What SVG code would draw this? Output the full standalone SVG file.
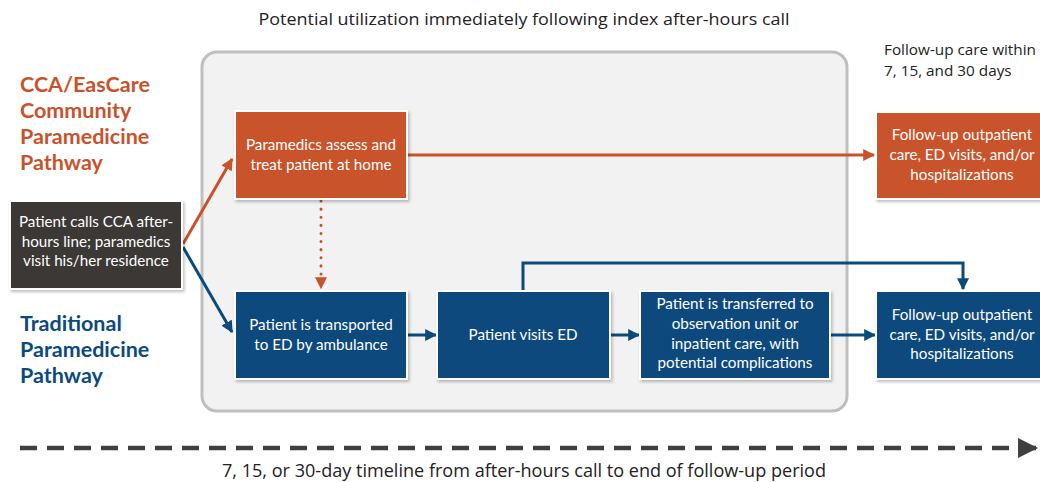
<svg xmlns="http://www.w3.org/2000/svg" width="1040" height="482" viewBox="0 0 1040 482">
  <style>
    .box { stroke: #ffffff; stroke-width: 2; filter: url(#shadow); }
    .orange { fill: #C9522A; }
    .blue { fill: #0B4A7D; }
    .dark { fill: #3B3936; }
    .btxt { font-family: Lato, "Liberation Sans", sans-serif; font-size: 15.2px; fill: #ffffff; text-anchor: middle; }
    .head { font-family: Lato, "Liberation Sans", sans-serif; font-size: 21.5px; font-weight: bold; }
    .note { font-family: "Open Sans", "Liberation Sans", sans-serif; font-size: 15.3px; fill: #222222; }
    .title { font-family: "Open Sans", "Liberation Sans", sans-serif; font-size: 16.5px; fill: #222222; text-anchor: middle; }
    .or-line { stroke: #C9522A; stroke-width: 3; fill: none; }
    .bl-line { stroke: #0B4A7D; stroke-width: 3; fill: none; }
  </style>
  <defs>
    <filter id="shadow" x="-10%" y="-10%" width="130%" height="130%">
      <feDropShadow dx="1.5" dy="2" stdDeviation="1.5" flood-color="#000000" flood-opacity="0.25"/>
    </filter>
    <marker id="arrOr" viewBox="0 0 10 10" refX="9" refY="5" markerWidth="4" markerHeight="4" orient="auto" markerUnits="strokeWidth">
      <path d="M0,0 L10,5 L0,10 z" fill="#C9522A"/>
    </marker>
    <marker id="arrBl" viewBox="0 0 10 10" refX="9" refY="5" markerWidth="4" markerHeight="4" orient="auto" markerUnits="strokeWidth">
      <path d="M0,0 L10,5 L0,10 z" fill="#0B4A7D"/>
    </marker>
    <marker id="arrGr" viewBox="0 0 10 10" refX="9" refY="5" markerWidth="4.5" markerHeight="4.5" orient="auto" markerUnits="strokeWidth">
      <path d="M0,0 L10,5 L0,10 z" fill="#404040"/>
    </marker>
  </defs>

  <!-- heading -->
  <text class="title" x="524" y="25" textLength="531" lengthAdjust="spacingAndGlyphs">Potential utilization immediately following index after-hours call</text>

  <!-- period of immediate utilization -->
  <rect x="202" y="52" width="645" height="359" rx="15" ry="15" fill="#F2F2F2" stroke="#BFBFBF" stroke-width="3"/>

  <!-- pathway labels -->
  <g id="label-cca">
    <text class="head" fill="#C9522A" x="20" y="92">CCA/EasCare</text>
    <text class="head" fill="#C9522A" x="20" y="118">Community</text>
    <text class="head" fill="#C9522A" x="20" y="144">Paramedicine</text>
    <text class="head" fill="#C9522A" x="20" y="170">Pathway</text>
  </g>
  <g id="label-traditional">
    <text class="head" fill="#0B4A7D" x="20" y="331">Traditional</text>
    <text class="head" fill="#0B4A7D" x="20" y="357">Paramedicine</text>
    <text class="head" fill="#0B4A7D" x="20" y="383">Pathway</text>
  </g>

  <g id="label-followup">
    <text class="note" x="884" y="55">Follow-up care within</text>
    <text class="note" x="884" y="76">7, 15, and 30 days</text>
  </g>

  <!-- connectors -->
  <g id="connectors">
    <line class="or-line" x1="183" y1="244" x2="232" y2="159" marker-end="url(#arrOr)"/>
    <line class="bl-line" x1="183" y1="247" x2="232" y2="332" marker-end="url(#arrBl)"/>
    <line class="or-line" x1="407" y1="155" x2="874" y2="155" marker-end="url(#arrOr)"/>
    <line x1="321" y1="201" x2="321" y2="288" stroke="#C9522A" stroke-width="3" stroke-dasharray="0.1 8" stroke-linecap="round" marker-end="url(#arrOr)"/>
    <line class="bl-line" x1="407" y1="335" x2="436" y2="335" marker-end="url(#arrBl)"/>
    <line class="bl-line" x1="610" y1="335" x2="639" y2="335" marker-end="url(#arrBl)"/>
    <line class="bl-line" x1="830" y1="335" x2="875" y2="335" marker-end="url(#arrBl)"/>
    <polyline class="bl-line" points="523,291 523,263 963,263 963,289" marker-end="url(#arrBl)"/>
  </g>

  <!-- nodes -->
  <g id="node-call">
    <rect class="box dark" x="10" y="201" width="172" height="88"/>
    <text class="btxt" x="96" y="227">Patient calls CCA after-</text>
    <text class="btxt" x="96" y="247">hours line; paramedics</text>
    <text class="btxt" x="96" y="266">visit his/her residence</text>
  </g>

  <g id="node-home">
    <rect class="box orange" x="235" y="111" width="172" height="88"/>
    <text class="btxt" x="321" y="150">Paramedics assess and</text>
    <text class="btxt" x="321" y="170">treat patient at home</text>
  </g>

  <g id="node-followup-cca">
    <rect class="box orange" x="876" y="112" width="172" height="87"/>
    <text class="btxt" x="962" y="140">Follow-up outpatient</text>
    <text class="btxt" x="962" y="160">care, ED visits, and/or</text>
    <text class="btxt" x="962" y="180">hospitalizations</text>
  </g>

  <g id="node-transport">
    <rect class="box blue" x="235" y="291" width="172" height="88"/>
    <text class="btxt" x="321" y="330">Patient is transported</text>
    <text class="btxt" x="321" y="350">to ED by ambulance</text>
  </g>

  <g id="node-ed">
    <rect class="box blue" x="437" y="291" width="173" height="88"/>
    <text class="btxt" x="523" y="340">Patient visits ED</text>
  </g>

  <g id="node-transfer">
    <rect class="box blue" x="640" y="291" width="190" height="88"/>
    <text class="btxt" x="735" y="309">Patient is transferred to</text>
    <text class="btxt" x="735" y="329">observation unit or</text>
    <text class="btxt" x="735" y="349">inpatient care, with</text>
    <text class="btxt" x="735" y="368">potential complications</text>
  </g>

  <g id="node-followup-trad">
    <rect class="box blue" x="876" y="291" width="172" height="88"/>
    <text class="btxt" x="962" y="320">Follow-up outpatient</text>
    <text class="btxt" x="962" y="340">care, ED visits, and/or</text>
    <text class="btxt" x="962" y="359">hospitalizations</text>
  </g>

  <!-- timeline -->
  <g id="timeline">
    <line x1="20" y1="448" x2="1036" y2="448" stroke="#404040" stroke-width="4.5" stroke-dasharray="17 10" marker-end="url(#arrGr)"/>
    <text class="title" x="524" y="477" style="font-size:17.5px" textLength="604" lengthAdjust="spacingAndGlyphs">7, 15, or 30-day timeline from after-hours call to end of follow-up period</text>
  </g>
</svg>
